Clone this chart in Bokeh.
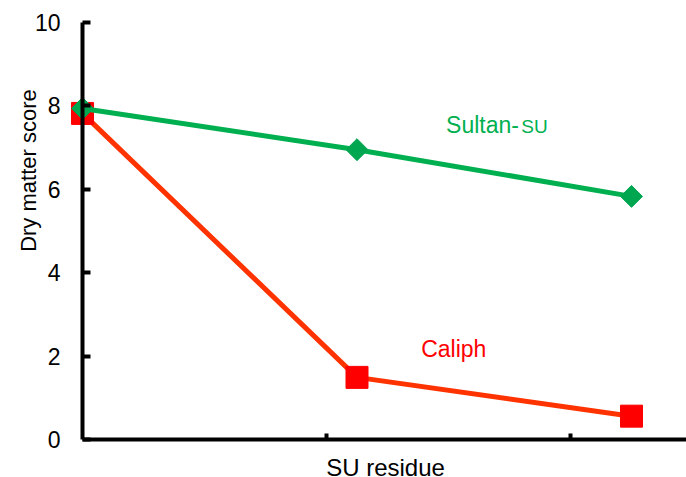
import math
from bokeh.plotting import figure
from bokeh.models import Range1d, FixedTicker, Label, ColumnDataSource
from bokeh.embed import file_html
from bokeh.resources import INLINE

# data
x_pos = [0, 1.125, 2.25]
sultan = [7.94, 6.95, 5.83]
caliph = [7.82, 1.49, 0.56]
y_ticks = [0, 2, 4, 6, 8, 10]
x_ticks = [1, 2]

FONT = "Liberation Sans"

p = figure(width=686, height=477, output_backend="svg", toolbar_location=None,
           min_border_left=0, min_border_right=0, min_border_top=0, min_border_bottom=0,
           x_range=Range1d(-0.3361, 2.4754), y_range=Range1d(-0.911, 10.528))
p.outline_line_color = None
p.grid.visible = False
p.background_fill_color = "white"
p.border_fill_color = "white"

# y axis
ya = p.yaxis[0]
ya.fixed_location = 0
ya.bounds = (0, 10)
ya.ticker = FixedTicker(ticks=y_ticks)
ya.axis_line_width = 4
ya.major_tick_line_width = 4
ya.major_tick_in = 8
ya.major_tick_out = 0
ya.minor_tick_line_color = None
ya.major_label_text_font = FONT
ya.major_label_text_font_size = "23px"
ya.major_label_text_color = "black"
ya.major_label_standoff = 22

# x axis
xa = p.xaxis[0]
xa.fixed_location = 0
xa.bounds = (0, 2.4754)
xa.ticker = FixedTicker(ticks=x_ticks)
xa.axis_line_width = 4
xa.major_tick_line_width = 4
xa.major_tick_in = 6
xa.major_tick_out = 0
xa.minor_tick_line_color = None
xa.major_label_overrides = {1: " ", 2: " "}
xa.major_label_text_font_size = "1px"

src_c = ColumnDataSource(dict(x=x_pos, y=caliph))
src_s = ColumnDataSource(dict(x=x_pos, y=sultan))

p.line("x", "y", source=src_c, line_color="#FF3300", line_width=5)
p.scatter("x", "y", source=src_c, marker="square", size=22, fill_color="#FF0000", line_color="#FF0000")
p.line("x", "y", source=src_s, line_color="#00B050", line_width=5)
p.scatter("x", "y", source=src_s, marker="square", angle=math.pi / 4, size=15.5,
          fill_color="#00A650", line_color="#00A650")

# texts
p.add_layout(Label(x=1.49, y=7.55, text="Sultan-", text_font=FONT, text_font_size="23px",
                   text_color="#00B050", text_baseline="alphabetic"))
p.add_layout(Label(x=1.798, y=7.515, text="SU", text_font=FONT, text_font_size="19px",
                   text_color="#00B050", text_baseline="alphabetic"))
p.add_layout(Label(x=1.388, y=2.18, text="Caliph", text_font=FONT, text_font_size="23px",
                   text_color="#FF0000", text_baseline="alphabetic"))
p.add_layout(Label(x=1.242, y=-0.66, text="SU residue", text_font=FONT, text_font_size="24px",
                   text_color="black", text_align="center", text_baseline="alphabetic"))
p.add_layout(Label(x=-0.221, y=6.45, text="Dry matter score", text_font=FONT, text_font_size="22px",
                   text_color="black", text_align="center", text_baseline="alphabetic", angle=math.pi / 2))

open("out.html", "w").write(file_html(p, INLINE))
